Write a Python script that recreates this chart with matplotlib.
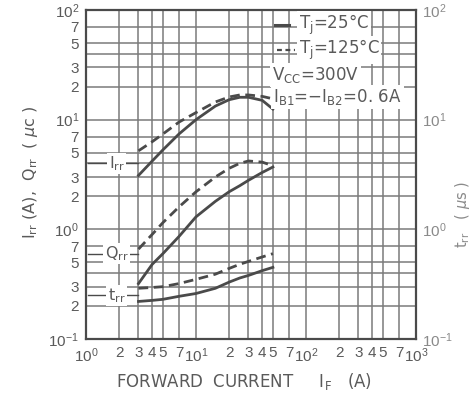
import matplotlib
matplotlib.use('Agg')
import matplotlib.pyplot as plt
from matplotlib.ticker import FixedLocator, FixedFormatter, NullLocator

plt.rcParams['font.family'] = ['Liberation Sans', 'DejaVu Sans']
plt.rcParams['mathtext.fontset'] = 'custom'
plt.rcParams['mathtext.rm'] = 'Liberation Sans'
plt.rcParams['mathtext.it'] = 'Liberation Sans:italic'
plt.rcParams['mathtext.bf'] = 'Liberation Sans:bold'

# forward current IF (A)
forward_current = [3, 4, 5, 7, 10, 15, 20, 25, 30, 40, 50]

# peak reverse recovery current Irr (A)
irr_25 = [3.1, 4.2, 5.3, 7.4, 10.0, 13.3, 15.2, 16.0, 16.0, 15.0, 12.5]
irr_125 = [5.2, 6.3, 7.4, 9.5, 11.6, 14.5, 16.1, 16.8, 16.8, 16.3, 15.5]

# reverse recovery charge Qrr (uC)
qrr_25 = [0.32, 0.48, 0.60, 0.86, 1.3, 1.8, 2.2, 2.5, 2.8, 3.3, 3.7]
qrr_125 = [0.66, 0.90, 1.15, 1.6, 2.2, 3.0, 3.6, 4.0, 4.2, 4.1, 3.8]

# reverse recovery time trr (us)
trr_25 = [0.22, 0.225, 0.23, 0.245, 0.26, 0.29, 0.33, 0.36, 0.38, 0.42, 0.45]
trr_125 = [0.29, 0.295, 0.30, 0.32, 0.35, 0.39, 0.44, 0.48, 0.51, 0.56, 0.60]

decades = [1, 10, 100, 1000]
x_minor = [2, 3, 4, 5, 7]
x_minor_labels = ['2', '3', '4', '5', '7']
y_decades = [0.1, 1, 10, 100]
y_minor = [2, 3, 4, 5, 7]
y_minor_labels = ['2', '3', '', '5', '7']

INK = '#4a4a4a'
GRID = '#7a7a7a'
TXT = '#5a5a5a'
WIDE = dict(fontfamily='DejaVu Sans', math_fontfamily='dejavusans')

fig = plt.figure(figsize=(4.75, 4.07), dpi=100)
ax = fig.add_axes([86 / 475, 1 - 339 / 407, 330 / 475, 329 / 407])

# ticks and grid
xt, xl = [], []
for d in decades:
    xt.append(d)
    xl.append(r'$10^{%d}$' % len(str(d)[1:]))
    if d < 1000:
        for m, lab in zip(x_minor, x_minor_labels):
            xt.append(m * d)
            xl.append(lab)
yt, yl = [], []
for i, d in enumerate(y_decades):
    yt.append(d)
    yl.append(r'$10^{%d}$' % (i - 1))
    if d < 100:
        for m, lab in zip(y_minor, y_minor_labels):
            yt.append(m * d)
            yl.append(lab)

ax.set_xscale('log')
ax.set_yscale('log')
ax.set_xlim(1, 1000)
ax.set_ylim(0.1, 100)
ax.xaxis.set_major_locator(FixedLocator(xt))
ax.xaxis.set_major_formatter(FixedFormatter(xl))
ax.xaxis.set_minor_locator(NullLocator())
ax.yaxis.set_major_locator(FixedLocator(yt))
ax.yaxis.set_major_formatter(FixedFormatter(yl))
ax.yaxis.set_minor_locator(NullLocator())
ax.tick_params(length=0, labelsize=11, labelcolor=TXT, pad=5)
ax.grid(True, color=GRID, linewidth=1.1)
for s in ax.spines.values():
    s.set_color(INK)
    s.set_linewidth(1.6)

ax2 = ax.twinx()
ax2.set_yscale('log')
ax2.set_ylim(0.1, 100)
ax2.yaxis.set_major_locator(FixedLocator(y_decades))
ax2.yaxis.set_major_formatter(FixedFormatter([r'$10^{%d}$' % (i - 1) for i in range(4)]))
ax2.yaxis.set_minor_locator(NullLocator())
ax2.tick_params(length=0, labelsize=11, labelcolor='#8a8a8a', pad=4)
for s in ax2.spines.values():
    s.set_visible(False)

dash = (3.5, 2.0)
lw = 2.0
ax.plot(forward_current, irr_25, color=INK, lw=lw)
ax.plot(forward_current, irr_125, color=INK, lw=lw, dashes=dash)
ax.plot(forward_current, qrr_25, color=INK, lw=lw)
ax.plot(forward_current, qrr_125, color=INK, lw=lw, dashes=dash)
ax2.plot(forward_current, trr_25, color=INK, lw=lw)
ax2.plot(forward_current, trr_125, color=INK, lw=lw, dashes=dash)

# curve name labels with leader lines
for name, yv in [(r'I$_{\mathrm{rr}}$', 4.0), (r'Q$_{\mathrm{rr}}$', 0.6), (r't$_{\mathrm{rr}}$', 0.25)]:
    ax.plot([1.05, 3.0], [yv, yv], color=INK, lw=1.0)
    ax.text(1.9, yv, name, fontsize=11.5, color=TXT, ha='center', va='center', zorder=5,
            bbox=dict(facecolor='white', edgecolor='none', pad=1.0), **WIDE)

# condition block
bb = dict(facecolor='white', edgecolor='none', pad=1.5)
ax.plot([52, 70], [73, 73], color=INK, lw=2.2, zorder=6)
ax.text(86, 73, r'T$_{\mathrm{j}}$=25°C', fontsize=12, color=TXT, va='center', zorder=5,
        bbox=bb, **WIDE)
ax.plot([54, 80], [43, 43], color=INK, lw=1.6, dashes=(2.2, 1.6), zorder=6)
ax.text(86, 43, r'T$_{\mathrm{j}}$=125°C', fontsize=12, color=TXT, va='center', zorder=5,
        bbox=bb, **WIDE)
ax.text(49, 25.6, r'V$_{\mathrm{CC}}$=300V', fontsize=12, color=TXT, va='center', zorder=5,
        bbox=bb, **WIDE)
ax.text(50, 16, r'I$_{\mathrm{B1}}$=$-$I$_{\mathrm{B2}}$=0. 6A', fontsize=12, color=TXT,
        va='center', zorder=5, bbox=bb, **WIDE)

fig.text(30 / 475, 1 - 172 / 407, r'I$_{\mathrm{rr}}$ (A),  Q$_{\mathrm{rr}}$  ( $\mu$c )',
         rotation=90, fontsize=11.5, color=TXT, ha='center', va='center', **WIDE)
fig.text(463 / 475, 1 - 214 / 407, r't$_{\mathrm{rr}}$   ( $\mu$s )', rotation=90,
         fontsize=10.5, color='#8a8a8a', ha='center', va='center', **WIDE)
fig.text(244 / 475, 1 - 382 / 407, r'FORWARD  CURRENT     I$_{\mathrm{F}}$   (A)',
         fontsize=12, color=TXT, ha='center', va='center', **WIDE)

fig.savefig('out.png', dpi=100, facecolor='white')
